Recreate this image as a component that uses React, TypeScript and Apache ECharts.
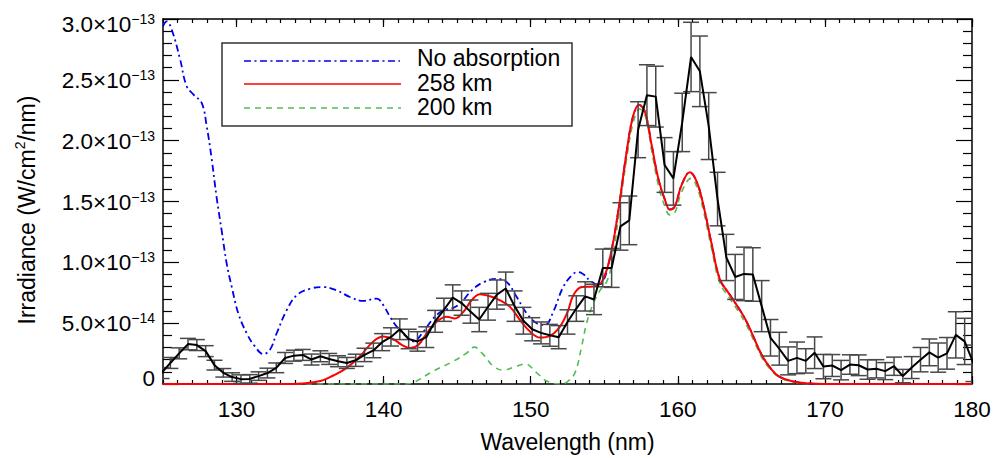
import React, { useEffect, useRef } from 'react';
import * as echarts from 'echarts';

const FONT = '"Liberation Sans", Arial, Helvetica, sans-serif';

// Irradiance values are in units of 1e-14 W/cm^2/nm.

// Observed spectrum (black, with error bars)
const waveObs = [
  124.9, 125.5, 126.1, 126.7, 127.3, 127.9, 128.5, 129.1, 129.7, 130.3,
  130.9, 131.5, 132.1, 132.7, 133.3, 133.9, 134.5, 135.1, 135.7, 136.3,
  136.9, 137.5, 138.1, 138.7, 139.3, 139.9, 140.5, 141.1, 141.7, 142.3,
  142.9, 143.5, 144.1, 144.7, 145.3, 145.9, 146.5, 147.1, 147.7, 148.3,
  148.9, 149.5, 150.1, 150.7, 151.3, 151.9, 152.5, 153.1, 153.7, 154.3,
  154.9, 155.5, 156.1, 156.7, 157.3, 157.9, 158.5, 159.1, 159.7, 160.3,
  160.9, 161.5, 162.1, 162.7, 163.3, 163.9, 164.5, 165.1, 165.7, 166.3,
  166.9, 167.5, 168.1, 168.7, 169.3, 169.9, 170.5, 171.1, 171.7, 172.3,
  172.9, 173.5, 174.1, 174.7, 175.3, 175.9, 176.5, 177.1, 177.7, 178.3,
  178.9, 179.5, 180.1,
];
const irrObs = [
  0.9, 1.73, 2.52, 3.28, 3.2, 2.7, 1.55, 0.92, 0.57, 0.4,
  0.42, 0.65, 0.9, 1.33, 2.14, 2.33, 2.39, 2.01, 2.28, 2.06,
  1.87, 1.73, 1.95, 2.39, 2.76, 3.44, 3.87, 4.5, 3.7, 3.5,
  3.85, 5.15, 6.1, 7.1, 6.65, 5.95, 5.3, 6.35, 7.35, 7.85,
  6.4, 5.2, 4.5, 4.2, 4.0, 3.85, 5.1, 6.2, 7.2, 6.95,
  9.54, 9.54, 12.95, 13.45, 20.9, 23.74, 23.62, 18.0, 16.9, 21.5,
  26.88, 25.7, 21.2, 15.2, 10.4, 8.8, 9.05, 9.0, 6.4, 3.8,
  2.9, 1.9, 2.15, 1.9, 2.57, 1.43, 1.52, 1.14, 1.6, 1.54,
  1.19, 1.25, 1.06, 1.46, 0.65, 1.35, 2.0, 2.6, 2.17, 2.52,
  4.04, 3.5, 1.7,
];
const errObs = [
  0.45, 0.45, 0.45, 0.47, 0.45, 0.45, 0.4, 0.35, 0.35, 0.35,
  0.35, 0.35, 0.4, 0.4, 0.45, 0.45, 0.45, 0.45, 0.45, 0.45,
  0.45, 0.45, 0.5, 0.55, 0.6, 0.7, 0.75, 0.85, 0.8, 0.8,
  0.85, 0.9, 0.95, 1.05, 1.0, 0.95, 1.0, 1.1, 1.2, 1.35,
  1.25, 1.1, 0.95, 0.9, 0.9, 0.95, 1.0, 1.05, 1.2, 1.25,
  1.55, 1.6, 1.95, 2.0, 2.3, 2.5, 2.5, 2.25, 2.2, 2.4,
  2.85, 2.9, 2.75, 2.2, 1.9, 1.85, 2.2, 2.2, 2.1, 1.5,
  1.35, 1.15, 1.3, 1.0, 1.3, 1.0, 0.9, 0.8, 0.8, 0.85,
  0.8, 0.75, 0.7, 0.75, 0.55, 0.9, 1.0, 1.1, 1.2, 1.3,
  1.9, 1.9, 1.5,
];

// Model: no absorption (blue dash-dot)
const waveNoAbs = [
  125.0, 125.25, 125.6, 126.16, 126.6, 127.06, 127.63, 127.97, 128.31, 128.65,
  128.99, 129.33, 129.67, 130.12, 130.69, 131.25, 131.82, 132.27, 132.73, 133.41,
  134.09, 135.0, 135.9, 136.8, 137.71, 138.62, 139.53, 139.98, 140.43, 140.89,
  141.5, 142.02, 142.7, 143.38, 144.06, 144.63, 145.2, 145.99, 146.78, 147.69,
  148.37, 149.05, 149.73, 150.41, 150.97, 151.53, 152.21, 152.89, 153.25, 153.6,
  154.03, 154.6, 154.95, 155.39, 155.95, 156.52, 156.97, 157.38, 157.77, 158.22,
  158.67, 159.12, 159.46, 159.8, 160.26, 160.82, 161.28, 161.73, 162.3, 162.86,
  163.5, 164.1, 164.6, 165.1, 165.7, 166.3, 166.9, 167.8, 168.9, 170.0,
  180.0,
];
const irrNoAbs = [
  29.4, 29.8, 29.1, 26.7, 24.5, 23.8, 23.1, 21.2, 18.5, 15.3,
  12.6, 9.9, 8.0, 5.8, 4.17, 3.09, 2.46, 2.82, 4.17, 6.07,
  7.29, 7.83, 7.97, 7.7, 7.15, 6.83, 7.02, 6.48, 5.53, 4.72,
  3.95, 3.5, 4.3, 5.39, 6.07, 6.2, 6.61, 7.7, 8.37, 8.64,
  8.37, 7.15, 5.8, 4.99, 4.85, 5.93, 7.97, 9.05, 9.2, 9.0,
  8.5, 8.15, 8.5, 10.4, 14.2, 19.07, 22.06, 22.95, 22.35, 19.64,
  16.9, 15.15, 14.34, 14.61, 16.37, 17.4, 16.64, 14.74, 11.5, 8.6,
  7.4, 6.3, 5.3, 4.0, 2.4, 1.3, 0.6, 0.22, 0.04, 0,
  0,
];

// Model: 258 km (red solid)
const wave258 = [
  125.0, 133.0, 134.5, 135.7, 136.58, 137.49, 138.39, 139.3, 139.98, 140.66,
  141.23, 141.8, 142.37, 142.93, 143.61, 144.29, 144.85, 145.42, 145.98, 146.55,
  147.23, 147.91, 148.59, 149.27, 149.95, 150.63, 151.31, 151.99, 152.5, 152.9,
  153.46, 154.25, 154.82, 155.39, 155.95, 156.52, 156.97, 157.38, 157.77, 158.22,
  158.67, 159.12, 159.46, 159.8, 160.26, 160.82, 161.28, 161.73, 162.3, 162.86,
  163.5, 164.1, 164.6, 165.1, 165.7, 166.3, 166.9, 167.8, 168.9, 170.0,
  180.0,
];
const irr258 = [
  0, 0, 0.05, 0.24, 0.7, 1.33, 2.28, 3.5, 3.9, 3.68,
  3.22, 2.95, 3.22, 4.17, 5.12, 5.53, 5.39, 5.93, 6.88, 7.37,
  7.21, 6.88, 6.34, 5.26, 4.31, 3.82, 3.96, 4.72, 5.9, 7.3,
  7.97, 8.02, 8.37, 10.4, 14.2, 19.07, 22.06, 22.93, 22.35, 19.64,
  16.9, 15.15, 14.34, 14.61, 16.37, 17.4, 16.64, 14.74, 11.5, 8.6,
  7.4, 6.3, 5.3, 4.0, 2.4, 1.3, 0.6, 0.22, 0.04, 0,
  0,
];

// Model: 200 km (green dashed)
const wave200 = [
  125.0, 141.5, 142.0, 143.38, 144.74, 145.65, 146.15, 146.78, 147.46, 148.14,
  148.93, 149.61, 150.41, 151.09, 152.0, 152.5, 153.01, 153.46, 153.8, 154.25,
  154.71, 155.16, 155.5, 155.95, 156.52, 156.97, 157.4, 157.8, 158.22, 158.67,
  159.12, 159.46, 159.8, 160.26, 160.9, 161.3, 161.73, 162.3, 162.86, 163.5,
  164.1, 164.6, 165.1, 165.7, 166.3, 166.9, 167.8, 169.0, 180.0,
];
const irr200 = [
  0, 0, 0.1, 1.06, 1.87, 2.55, 3.03, 2.41, 1.46, 1.14,
  1.41, 1.65, 0.92, 0.24, 0, 0.2, 0.92, 3.09, 5.0, 6.61,
  7.7, 8.4, 9.8, 13.6, 18.5, 21.5, 22.6, 22.0, 19.2, 16.4,
  14.6, 13.9, 14.1, 15.8, 16.9, 16.2, 14.3, 11.1, 8.3, 7.1,
  6.0, 5.0, 3.75, 2.2, 1.2, 0.55, 0.18, 0.02, 0,
];

// Axis ticks and labels
const xMajorTicks = [130, 140, 150, 160, 170, 180];
const yTickValues = [0, 5, 10, 15, 20, 25, 30];
const yTickMantissa = ['0', '5.0', '1.0', '1.5', '2.0', '2.5', '3.0'];
const yTickExponent = ['', '\u221214', '\u221213', '\u221213', '\u221213', '\u221213', '\u221213'];

const legendNames = ['No absorption', '258 km', '200 km'];
const COLORS = { blue: '#0000ee', red: '#ff0000', green: '#55bb55', black: '#000000', err: '#484848' };

const pairs = (xs: number[], ys: number[]) => xs.map((x, i) => [x, ys[i]]);

function yLabel(v: number): string {
  const i = yTickValues.indexOf(Math.round(v));
  if (i < 0) return '';
  if (i === 0) return '{z|0}';
  const top = i === yTickValues.length - 1;
  const b = top ? 'bt' : 'b';
  const s = top ? 'st' : 's';
  return `{${b}|${yTickMantissa[i]}\u00d710}{${s}|${yTickExponent[i]}}`;
}

function buildOption(): any {
  const tickLine = { color: '#000', width: 1.2 };
  const axisLine = { show: true, lineStyle: { color: '#000', width: 1.5 } };
  const xBase = {
    type: 'value', min: 125, max: 180, splitLine: { show: false },
  };
  const errData = waveObs.map((x, i) => [x, irrObs[i] - errObs[i], irrObs[i] + errObs[i]]);
  return {
    animation: false,
    backgroundColor: '#ffffff',
    grid: { left: 163, right: 36, top: 19, bottom: 70, containLabel: false },
    xAxis: [
      {
        ...xBase, position: 'bottom', interval: 1,
        axisLine, axisTick: { show: true, inside: true, length: 4, lineStyle: tickLine },
        axisLabel: { show: false },
      },
      {
        ...xBase, position: 'bottom',
        axisLine: { show: false },
        axisTick: { show: true, inside: true, length: 8, customValues: xMajorTicks, lineStyle: tickLine },
        axisLabel: {
          show: true, customValues: xMajorTicks, fontSize: 22.5, fontFamily: FONT, color: '#000', margin: 14,
        },
        name: 'Wavelength (nm)', nameLocation: 'middle', nameGap: 46,
        nameTextStyle: { fontSize: 23, fontFamily: FONT, color: '#000' },
      },
      {
        ...xBase, position: 'top', interval: 1,
        axisLine, axisTick: { show: true, inside: true, length: 4, lineStyle: tickLine },
        axisLabel: { show: false },
      },
      {
        ...xBase, position: 'top',
        axisLine: { show: false },
        axisTick: { show: true, inside: true, length: 8, customValues: xMajorTicks, lineStyle: tickLine },
        axisLabel: { show: false },
      },
    ],
    yAxis: [
      {
        type: 'value', min: 0, max: 30, interval: 5, position: 'left',
        axisLine, splitLine: { show: false },
        axisTick: { show: true, inside: true, length: 16, lineStyle: tickLine },
        minorTick: { show: true, splitNumber: 5, length: 9, lineStyle: tickLine },
        minorSplitLine: { show: false },
        axisLabel: {
          show: true, margin: 8, formatter: yLabel,
          rich: {
            b: { fontSize: 22.5, fontFamily: FONT, color: '#000', lineHeight: 24, verticalAlign: 'bottom' },
            s: { fontSize: 14, fontFamily: FONT, color: '#000', lineHeight: 14, verticalAlign: 'top' },
            bt: { fontSize: 22.5, fontFamily: FONT, color: '#000', lineHeight: 24, verticalAlign: 'bottom' },
            st: { fontSize: 14, fontFamily: FONT, color: '#000', lineHeight: 34, verticalAlign: 'middle' },
            z: { fontSize: 22.5, fontFamily: FONT, color: '#000', padding: [0, 0, 12, 0] },
          },
        },
      },
      {
        type: 'value', min: 0, max: 30, interval: 5, position: 'right',
        axisLine, splitLine: { show: false },
        axisTick: { show: true, inside: true, length: 16, lineStyle: tickLine },
        minorTick: { show: true, splitNumber: 5, length: 9, lineStyle: tickLine },
        minorSplitLine: { show: false },
        axisLabel: { show: false },
      },
    ],
    series: [
      {
        name: legendNames[0], type: 'line', data: pairs(waveNoAbs, irrNoAbs), smooth: 0.4,
        showSymbol: false, symbol: 'none', clip: true, z: 2,
        lineStyle: { color: COLORS.blue, width: 1.8, type: [7, 3.5, 2, 3.5] },
      },
      {
        name: legendNames[2], type: 'line', data: pairs(wave200, irr200), smooth: 0.4,
        showSymbol: false, symbol: 'none', clip: true, z: 2,
        lineStyle: { color: COLORS.green, width: 1.6, type: [6, 5] },
      },
      {
        name: legendNames[1], type: 'line', data: pairs(wave258, irr258), smooth: 0.4,
        showSymbol: false, symbol: 'none', clip: true, z: 3,
        lineStyle: { color: COLORS.red, width: 2 },
      },
      {
        name: 'error', type: 'custom', data: errData, clip: true, z: 4,
        encode: { x: 0, y: [1, 2] },
        renderItem: (params: any, api: any) => {
          const x = api.value(0);
          const lo = api.coord([x, api.value(1)]);
          const hi = api.coord([x, api.value(2)]);
          const hw = 8;
          const style = { stroke: COLORS.err, lineWidth: 1.5 };
          return {
            type: 'group',
            children: [
              { type: 'line', shape: { x1: lo[0], y1: lo[1], x2: hi[0], y2: hi[1] }, style },
              { type: 'line', shape: { x1: lo[0] - hw, y1: lo[1], x2: lo[0] + hw, y2: lo[1] }, style },
              { type: 'line', shape: { x1: hi[0] - hw, y1: hi[1], x2: hi[0] + hw, y2: hi[1] }, style },
            ],
          };
        },
      },
      {
        name: 'observed', type: 'line', data: pairs(waveObs, irrObs), smooth: false,
        showSymbol: false, symbol: 'none', clip: true, z: 5,
        lineStyle: { color: COLORS.black, width: 2 },
      },
    ],
    graphic: [
      {
        type: 'text', x: 25.5, y: 210, rotation: Math.PI / 2, z: 100,
        style: {
          text: '{a|Irradiance (W/cm}{s|2}{a|/nm)}',
          align: 'center', verticalAlign: 'middle',
          rich: {
            a: { fontSize: 23, fontFamily: FONT, color: '#000', lineHeight: 26, verticalAlign: 'bottom' },
            s: { fontSize: 14, fontFamily: FONT, color: '#000', lineHeight: 14, verticalAlign: 'top' },
          },
        },
      },
      {
        type: 'rect', z: 100,
        shape: { x: 222, y: 43, width: 350, height: 83 },
        style: { fill: '#ffffff', stroke: '#333', lineWidth: 1.5 },
      },
      {
        type: 'line', z: 101, shape: { x1: 244, y1: 61, x2: 400, y2: 61 },
        style: { stroke: COLORS.blue, lineWidth: 1.5, lineDash: [7, 3.5, 2, 3.5] },
      },
      {
        type: 'line', z: 101, shape: { x1: 244, y1: 84, x2: 401, y2: 84 },
        style: { stroke: COLORS.red, lineWidth: 1.5 },
      },
      {
        type: 'line', z: 101, shape: { x1: 244, y1: 108, x2: 401, y2: 108 },
        style: { stroke: COLORS.green, lineWidth: 1.5, lineDash: [6, 5] },
      },
      ...legendNames.map((t, i) => ({
        type: 'text', z: 101, x: 417, y: [58.3, 83.3, 107][i],
        style: { text: t, fontSize: 23, fontFamily: FONT, fill: '#000', align: 'left', verticalAlign: 'middle' },
      })),
    ],
  };
}

export default function App() {
  const ref = useRef<HTMLDivElement>(null);
  useEffect(() => {
    if (!ref.current) return;
    const chart = echarts.init(ref.current, null, { renderer: 'svg' });
    chart.setOption(buildOption());
    return () => chart.dispose();
  }, []);
  return (
    <div
      ref={ref}
      style={{ position: 'fixed', left: 0, top: 0, width: 1008, height: 458, background: '#fff' }}
    />
  );
}
